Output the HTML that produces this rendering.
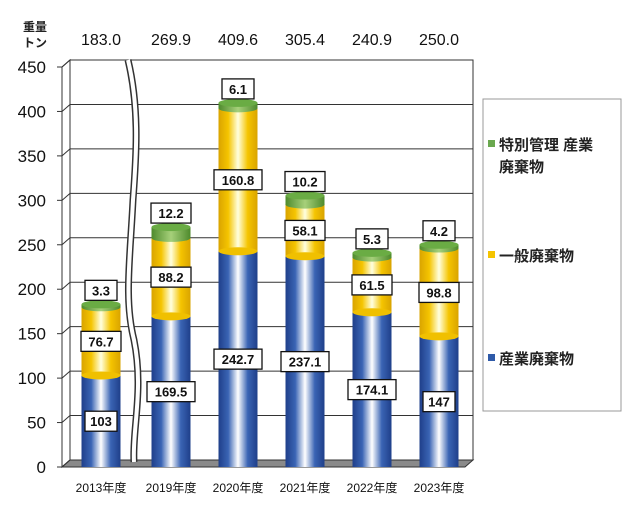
<!DOCTYPE html>
<html><head><meta charset="utf-8"><style>
body{margin:0;background:#fff;}
svg{display:block;font-family:"Liberation Sans","Noto Sans CJK JP",sans-serif;}
</style></head><body>
<svg id="chart" width="640" height="518" viewBox="0 0 640 518">
<defs>
<linearGradient id="gBlue" x1="0" x2="1" y1="0" y2="0">
<stop offset="0" stop-color="#1f3f8a"/><stop offset="0.25" stop-color="#3a64b4"/><stop offset="0.5" stop-color="#ffffff"/><stop offset="0.75" stop-color="#3a64b4"/><stop offset="1" stop-color="#1f3f8a"/></linearGradient>
<linearGradient id="gYel" x1="0" x2="1" y1="0" y2="0">
<stop offset="0" stop-color="#d9a400"/><stop offset="0.25" stop-color="#f5c400"/><stop offset="0.5" stop-color="#ffffe0"/><stop offset="0.75" stop-color="#f5c400"/><stop offset="1" stop-color="#d9a400"/></linearGradient>
<linearGradient id="gGrn" x1="0" x2="1" y1="0" y2="0">
<stop offset="0" stop-color="#4e8a2c"/><stop offset="0.5" stop-color="#a6d07a"/><stop offset="1" stop-color="#4e8a2c"/></linearGradient>
</defs>
<g id="axes"></g>
<g id="bars"></g>
<g id="legend">
<rect x="483" y="99" width="138" height="312" fill="#fff" stroke="#999"/>
<g><rect x="488" y="140" width="7" height="7" fill="#6aa84f"/><text x="499" y="150" font-size="15" font-weight="bold" fill="#222">特別管理 産業</text><text x="499" y="172" font-size="15" font-weight="bold" fill="#222">廃棄物</text></g>
<g><rect x="488" y="251" width="7" height="7" fill="#f5c400"/><text x="499" y="261" font-size="15" font-weight="bold" fill="#222">一般廃棄物</text></g>
<g><rect x="488" y="354" width="7" height="7" fill="#2f5aa8"/><text x="499" y="364" font-size="15" font-weight="bold" fill="#222">産業廃棄物</text></g>
</g>
</svg>
<script>
const categories=["2013年度","2019年度","2020年度","2021年度","2022年度","2023年度"];
const industrial=[103,169.5,242.7,237.1,174.1,147];
const general=[76.7,88.2,160.8,58.1,61.5,98.8];
const special=[3.3,12.2,6.1,10.2,5.3,4.2];
const industrialLabels=["103","169.5","242.7","237.1","174.1","147"];
const generalLabels=["76.7","88.2","160.8","58.1","61.5","98.8"];
const specialLabels=["3.3","12.2","6.1","10.2","5.3","4.2"];
const totalLabels=["183.0","269.9","409.6","305.4","240.9","250.0"];
const yTicks=[0,50,100,150,200,250,300,350,400,450];
const NS="http://www.w3.org/2000/svg";
const axes=document.getElementById('axes'),bars=document.getElementById('bars');
function mk(tag,attrs,parent,text){const e=document.createElementNS(NS,tag);for(const k in attrs)e.setAttribute(k,attrs[k]);if(text!==undefined)e.textContent=text;parent.appendChild(e);return e;}
const yBack=v=>460-v*0.8889;
const yFront=v=>467-v*0.8889;
const xC=i=>i===0?101:104+i*67;
mk('polygon',{points:`62,67 70,60 70,460 62,467`,fill:'#fff',stroke:'#333'},axes);
mk('rect',{x:70,y:60,width:403,height:400,fill:'#fff',stroke:'#333'},axes);
mk('polygon',{points:`62,467 70,460 473,460 465,467`,fill:'#8a8a8a',stroke:'#333'},axes);
yTicks.forEach(v=>{
 const yb=yBack(v),yf=yFront(v);
 if(v>0&&v<450){const l=mk('line',{x1:70,y1:yb,x2:473,y2:yb,stroke:'#333'},axes);}
 mk('line',{x1:62,y1:yf,x2:70,y2:yb,stroke:'#333'},axes);
 mk('line',{x1:57,y1:yf,x2:62,y2:yf,stroke:'#333'},axes);
 const t=mk('text',{x:46,y:yf+6,'text-anchor':'end','font-size':17,fill:'#111'},axes,String(v));
 
 
});
const u=mk('text',{x:35,y:31,'text-anchor':'middle','font-size':12,'font-weight':'bold',fill:'#222'},axes,'重量');


mk('text',{x:35,y:47,'text-anchor':'middle','font-size':12,'font-weight':'bold',fill:'#222'},axes,'トン');
mk('path',{d:'M128,60 C140,110 136,160 133,200 C130,260 124,300 134,340 C144,390 132,430 134,462',fill:'none',stroke:'#333','stroke-width':7},axes);
mk('path',{d:'M128,60 C140,110 136,160 133,200 C130,260 124,300 134,340 C144,390 132,430 134,462',fill:'none',stroke:'#fff','stroke-width':4},axes);
function label(x,y,txt,name){const g=mk('g',{},bars);
 const w=txt.length*8+8;mk('rect',{x:x-w/2,y:y-10,width:w,height:20,fill:'#fff',stroke:'#111','stroke-width':1.3},g);
 mk('text',{x:x,y:y+5,'text-anchor':'middle','font-size':13,'font-weight':'bold',fill:'#111'},g,txt);}
const W=39,ry=4;
categories.forEach((c,i)=>{
 const cx=xC(i),x0=cx-W/2;
 const t=mk('text',{x:cx,y:492,'text-anchor':'middle','font-size':12,fill:'#111'},axes,c);
 
 
 const tt=mk('text',{x:cx,y:45,'text-anchor':'middle','font-size':16,fill:'#111'},axes,totalLabels[i]);
 
 
 const y1=yFront(industrial[i]),y2=yFront(industrial[i]+general[i]),y3=yFront(industrial[i]+general[i]+special[i]);
 const b=mk('rect',{x:x0,y:y1,width:W,height:467-y1,fill:'url(#gBlue)'},bars);
 
 
 const g=mk('rect',{x:x0,y:y2,width:W,height:y1-y2,fill:'url(#gYel)'},bars);
 
 
 mk('ellipse',{cx:cx,cy:y1,rx:W/2,ry:ry,fill:'#f0c000'},bars);
 const s=mk('rect',{x:x0,y:y3,width:W,height:y2-y3,fill:'url(#gGrn)'},bars);
 
 
 mk('ellipse',{cx:cx,cy:y2,rx:W/2,ry:ry,fill:'url(#gGrn)'},bars);
 mk('ellipse',{cx:cx,cy:y3,rx:W/2,ry:ry,fill:'#6aac44'},bars);
 label(cx,(y1+467)/2,industrialLabels[i],'label-industrial-'+c);
 label(cx,(y1+y2)/2,generalLabels[i],'label-general-'+c);
 label(cx,y3-14,specialLabels[i],'label-special-'+c);
});
</script>
</body></html>
